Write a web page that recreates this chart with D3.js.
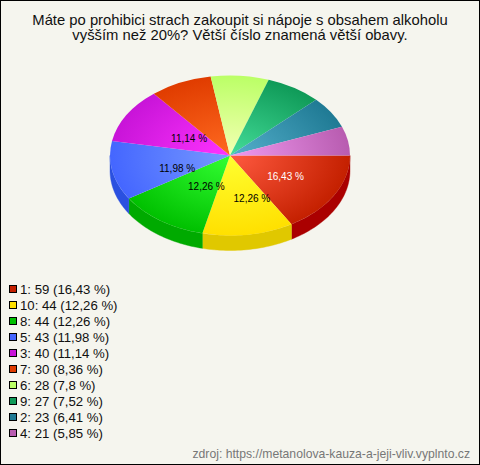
<!DOCTYPE html>
<html>
<head>
<meta charset="utf-8">
<script src="https://cdn.jsdelivr.net/npm/d3@7/dist/d3.min.js"></script>
<style>html,body{margin:0;padding:0;background:#f5f5ee}svg{display:block}text{font-family:"Liberation Sans",Arial,sans-serif}</style>
</head>
<body>
<script>
const titleLines = ["Máte po prohibici strach zakoupit si nápoje s obsahem alkoholu", "vyšším než 20%? Větší číslo znamená větší obavy."];
const categories = ["1","10","8","5","3","7","6","9","2","4"];
const values = [59,44,44,43,40,30,28,27,23,21];
const percents = ["16,43","12,26","12,26","11,98","11,14","8,36","7,8","7,52","6,41","5,85"];
const edgeColors = ["#c42000","#ffe000","#00c000","#4466ff","#c814d8","#e03c00","#bbff66","#0f9a58","#1f7a94","#b85cb0"];
const centerColors = ["#ff5a40","#ffff30","#33ff33","#7799ff","#ff33ff","#ff6a20","#f4ffb4","#44dd99","#55b0cc","#f09af0"];
const sideColors = ["#aa0000","#e0c800","#00aa00","#2a50e0","#a010b0","#b83000","#99dd55","#0c8048","#186478","#964a90"];
const source = "zdroj: https://metanolova-kauza-a-jeji-vliv.vyplnto.cz";
const labelMin = 11;
const labelNudge = [[-1,-1],[12,0],[14,-5],[11,4],[15,5]];

const W=480,H=465,cx=230,cy=155.5,rx=120,ry=80,depth=15;
const svg=d3.select("body").append("svg").attr("width",W).attr("height",H);
svg.append("rect").attr("x",0.5).attr("y",0.5).attr("width",W-1).attr("height",H-1).attr("fill","#f5f5ee").attr("stroke","#000");

const titleT=svg.append("text").attr("text-anchor","middle").attr("font-size",14.8).attr("fill","#111");
titleT.selectAll("tspan").data(titleLines).join("tspan").attr("x",240).attr("y",(d,i)=>25+i*15).text(d=>d);

const pie=d3.pie().sort(null).startAngle(Math.PI/2).endAngle(Math.PI/2+2*Math.PI);
const arcs=pie(values);
const arcGen=d3.arc().innerRadius(0).outerRadius(rx);
const defs=svg.append("defs");
arcs.forEach((a,i)=>{
  const g=defs.append("radialGradient").attr("id","g"+i).attr("gradientUnits","userSpaceOnUse")
    .attr("cx",0).attr("cy",0).attr("r",rx);
  g.append("stop").attr("offset",0).attr("stop-color",centerColors[i]);
  g.append("stop").attr("offset",1).attr("stop-color",edgeColors[i]);
});
const sy=ry/rx;
const rim=t=>[rx*Math.sin(t),-rx*Math.cos(t)*sy];
const lo=Math.PI/2,hi=3*Math.PI/2;
const sideG=svg.append("g").attr("transform",`translate(${cx},${cy})`);
arcs.forEach((a,i)=>{
  const s=Math.max(a.startAngle,lo),e=Math.min(a.endAngle,hi);
  if(e<=s) return;
  const n=Math.max(2,Math.ceil((e-s)*40));
  const ts=d3.range(n+1).map(k=>s+(e-s)*k/n);
  const top=ts.map(rim);
  const bot=ts.slice().reverse().map(t=>{const p=rim(t);return [p[0],p[1]+depth];});
  sideG.append("path").attr("d",d3.line()(top.concat(bot))+"Z").attr("fill",sideColors[i]).attr("stroke",sideColors[i]).attr("stroke-width",0.4);
});
const topG=svg.append("g").attr("transform",`translate(${cx},${cy}) scale(1,${sy})`);
topG.selectAll("path").data(arcs).join("path").attr("d",arcGen).attr("fill",(d,i)=>`url(#g${i})`);

const labelArc=d3.arc().innerRadius(65).outerRadius(65);
const labelG=svg.append("g").attr("transform",`translate(${cx},${cy})`);
arcs.forEach((a,i)=>{
  if(parseFloat(percents[i].replace(",","."))<labelMin) return;
  const c=labelArc.centroid(a);
  labelG.append("text").attr("x",c[0]+labelNudge[i][0]).attr("y",c[1]*sy+4+labelNudge[i][1]).attr("text-anchor","middle").attr("font-size",10)
    .attr("fill",i===0?"#fff":"#000").text(percents[i]+" %");
});

const legend=svg.append("g").selectAll("g").data(categories).join("g").attr("transform",(d,i)=>`translate(0,${285+i*16})`);
legend.append("rect").attr("x",9.5).attr("y",0.5).attr("width",7).attr("height",7).attr("fill",(d,i)=>edgeColors[i]).attr("stroke","#000");
legend.append("text").attr("x",20).attr("y",9).attr("font-size",13.2).attr("fill","#111")
  .text((d,i)=>`${d}: ${values[i]} (${percents[i]} %)`);

svg.append("text").attr("x",470).attr("y",457.5).attr("text-anchor","end").attr("font-size",12.2).attr("fill","#777").text(source);
</script>
</body>
</html>
